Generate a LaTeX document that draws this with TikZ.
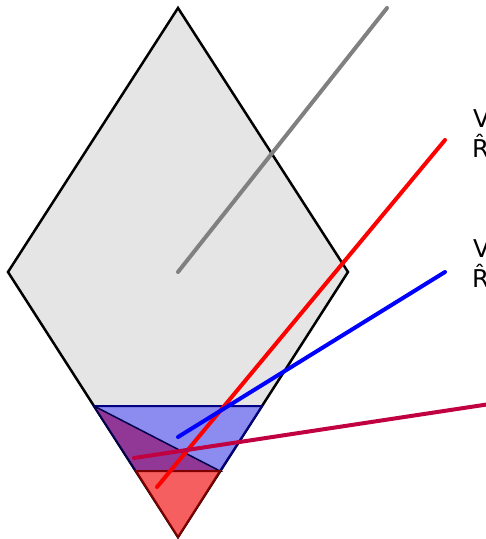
\documentclass[tikz,border=0pt]{standalone}
\usepackage{fontspec}
\setmainfont{DejaVu Sans}
\definecolor{hullgray}{RGB}{229,229,229}
\definecolor{bandblue}{RGB}{140,140,240}
\definecolor{bandpurple}{RGB}{145,55,150}
\definecolor{conered}{RGB}{245,95,95}
\definecolor{raycrimson}{RGB}{192,0,64}
\usetikzlibrary{calc}

\begin{document}
\begin{tikzpicture}[x=1pt,y=-1pt,
  ray/.style={line width=4pt, line cap=round},
  lbl/.style={anchor=base west, inner sep=0pt, font=\fontsize{24.5}{29}\selectfont}]
  \useasboundingbox (0,0) rectangle (486,539);

  % Diamond
  \coordinate (top) at (178,8);
  \coordinate (lft) at (8,272);
  \coordinate (rgt) at (348,272);
  \coordinate (bot) at (178,537);
  \draw[black, line width=2.5pt, line join=miter, fill=hullgray] (top) -- (lft) -- (bot) -- (rgt) -- cycle;

  % Blue band
  \coordinate (bl1) at (94,406);
  \coordinate (br1) at (262,406);
  \coordinate (bl2) at (136,471);
  \coordinate (br2) at (220,471);
  \draw[blue!50!black, line width=2pt, fill=bandblue] (bl1) -- (br1) -- (br2) -- (bl2) -- cycle;

  % Purple wedge
  \draw[blue!30!black, line width=1.5pt, fill=bandpurple] (bl1) -- (br2) -- (bl2) -- cycle;

  % Red tip
  \draw[red!50!black, line width=2pt, fill=conered] (bl2) -- (br2) -- (bot) -- cycle;

  % Rays
  \coordinate (g0) at (178,272);
  \coordinate (g1) at (387,8);
  \draw[ray, gray] (g0) -- (g1);
  \coordinate (r0) at (157,487);
  \coordinate (r1) at (445,140);
  \draw[ray, red] (r0) -- (r1);
  \coordinate (b0) at (178,437);
  \coordinate (b1) at (445,272);
  \draw[ray, blue] (b0) -- (b1);
  \coordinate (c0) at (134,458);
  \coordinate (c1) at (490,404);
  \draw[ray, raycrimson] (c0) -- (c1);

  % Labels
  \node[lbl] (v1) at (473,127) {V};
  \node[lbl] (h1) at (472,157) {\^R};
  \node[lbl] (v2) at (473,257) {V};
  \node[lbl] (h2) at (472,287) {\^R};
\end{tikzpicture}
\end{document}
